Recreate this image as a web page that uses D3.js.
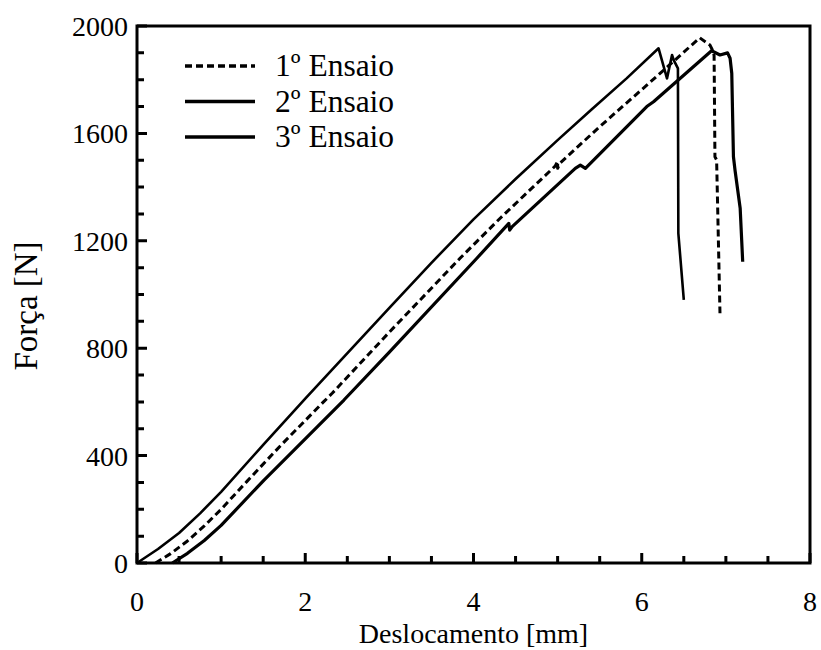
<!DOCTYPE html>
<html>
<head>
<meta charset="utf-8">
<script src="https://cdn.jsdelivr.net/npm/d3@7"></script>
<style>
  body { margin: 0; background: #fff; }
  svg text { font-family: "Liberation Serif", "Times New Roman", serif; fill: #000; }
  .curve { fill: none; stroke: #000; stroke-linejoin: round; }
</style>
</head>
<body>
<svg width="821" height="650"></svg>
<script>
// 1º Ensaio (dashed)
var ensaio1X = [0.22, 0.4, 0.6, 0.8, 1.0, 1.31, 1.7, 2.22, 2.32, 3.0, 3.84, 4.32, 4.97, 5.0, 5.0, 5.03, 5.5, 6.13, 6.69, 6.81, 6.84, 6.86, 6.87, 6.89, 6.93];
var ensaio1Y = [0, 35, 82, 138, 200, 305, 435, 601, 632, 860, 1135, 1285, 1478, 1496, 1470, 1490, 1625, 1799, 1956, 1929, 1911, 1890, 1513, 1501, 930];

// 2º Ensaio (upper solid)
var ensaio2X = [0, 0.25, 0.5, 0.75, 1.0, 1.5, 2.0, 3.0, 3.5, 4.0, 4.5, 5.0, 5.4, 5.82, 6.20, 6.30, 6.36, 6.38, 6.43, 6.435, 6.50];
var ensaio2Y = [0, 52, 112, 185, 265, 440, 612, 950, 1118, 1280, 1430, 1575, 1688, 1805, 1917, 1805, 1892, 1873, 1842, 1228, 980];

// 3º Ensaio (lower solid)
var ensaio3X = [0.42, 0.6, 0.8, 1.0, 1.51, 2.0, 2.46, 3.0, 4.04, 4.42, 4.43, 4.46, 5.21, 5.27, 5.33, 6.06, 6.14, 6.83, 6.93, 7.02, 7.05, 7.07, 7.09, 7.11, 7.17, 7.20];
var ensaio3Y = [0, 36, 84, 140, 309, 462, 607, 785, 1135, 1265, 1240, 1253, 1470, 1482, 1470, 1700, 1718, 1908, 1892, 1900, 1880, 1824, 1513, 1460, 1321, 1122];

var legendLabels = ["1º Ensaio", "2º Ensaio", "3º Ensaio"];
var xTickLabels = [0, 2, 4, 6, 8];
var yTickLabels = [0, 400, 800, 1200, 1600, 2000];

var margin = { top: 26, right: 11, bottom: 87, left: 137 },
    width = 821 - margin.left - margin.right,
    height = 650 - margin.top - margin.bottom;

var svg = d3.select("svg"),
    g = svg.append("g").attr("transform", "translate(" + margin.left + "," + margin.top + ")");

var x = d3.scaleLinear().domain([0, 8]).range([0, width]);
var y = d3.scaleLinear().domain([0, 2000]).range([height, 0]);

var series = [
    { name: legendLabels[0], xs: ensaio1X, ys: ensaio1Y, dash: "7,4", w: 3 },
    { name: legendLabels[1], xs: ensaio2X, ys: ensaio2Y, dash: null, w: 2.6 },
    { name: legendLabels[2], xs: ensaio3X, ys: ensaio3Y, dash: null, w: 3.2 }
];

var line = d3.line()
    .x(function (d) { return x(d[0]); })
    .y(function (d) { return y(d[1]); });

g.selectAll(".curve")
    .data(series)
    .enter().append("path")
    .attr("class", "curve")
    .attr("stroke-width", function (d) { return d.w; })
    .attr("stroke-dasharray", function (d) { return d.dash; })
    .attr("d", function (d) { return line(d3.zip(d.xs, d.ys)); });

// frame
g.append("rect")
    .attr("width", width).attr("height", height)
    .attr("fill", "none").attr("stroke", "#000").attr("stroke-width", 3);

// tick marks pointing inside, longer on labelled values
var xTicks = d3.range(0, 8.01, 0.5);
var yTicks = d3.range(0, 2001, 100);

var tickPath = "";
xTicks.forEach(function (d) {
    var len = d % 2 === 0 ? 10 : 7;
    tickPath += "M" + x(d) + "," + height + "V" + (height - len);
});
yTicks.forEach(function (d) {
    var len = d % 400 === 0 ? 10 : 7;
    tickPath += "M0," + y(d) + "H" + len;
});
g.append("path")
    .attr("d", tickPath)
    .attr("fill", "none")
    .attr("stroke", "#000")
    .attr("stroke-width", 3);

// tick labels
g.selectAll(".xlabel")
    .data(xTickLabels)
    .enter().append("text")
    .attr("x", function (d) { return x(d); })
    .attr("y", height + 48)
    .attr("text-anchor", "middle")
    .style("font-size", "28px")
    .text(function (d) { return d; });

g.selectAll(".ylabel")
    .data(yTickLabels)
    .enter().append("text")
    .attr("x", -9)
    .attr("y", function (d) { return y(d) + 10; })
    .attr("text-anchor", "end")
    .style("font-size", "28px")
    .text(function (d) { return d; });

// axis titles
svg.append("text")
    .attr("x", margin.left + width / 2).attr("y", 643)
    .attr("text-anchor", "middle")
    .style("font-size", "28px")
    .text("Deslocamento [mm]");
svg.append("text")
    .attr("transform", "translate(37,306) rotate(-90)")
    .attr("text-anchor", "middle")
    .style("font-size", "33px")
    .text("Força [N]");

// legend
var legend = svg.selectAll(".legend")
    .data(series)
    .enter().append("g")
    .attr("transform", function (d, i) { return "translate(185," + (66 + i * 35.5) + ")"; });
legend.append("line")
    .attr("x1", 0).attr("x2", 70)
    .attr("stroke", "#000").attr("stroke-width", 3.3)
    .attr("stroke-dasharray", function (d) { return d.dash; });
legend.append("text")
    .attr("x", 90).attr("y", 10)
    .style("font-size", "31.5px")
    .text(function (d) { return d.name; });
</script>
</body>
</html>
